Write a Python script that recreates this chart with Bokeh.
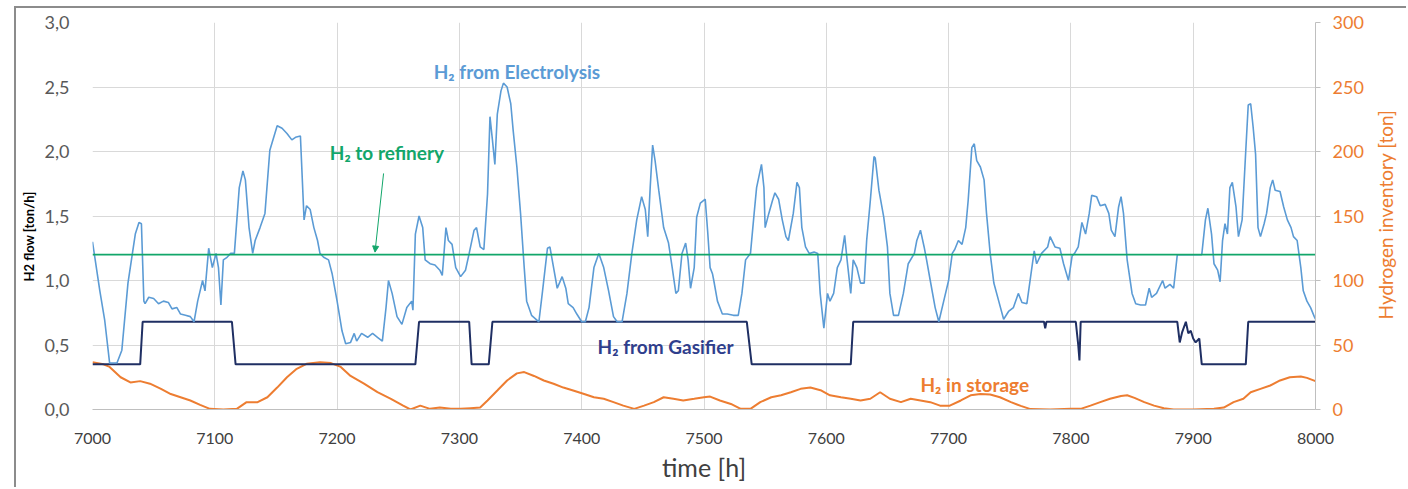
import math
from bokeh.plotting import figure
from bokeh.models import (Range1d, LinearAxis, SingleIntervalTicker, CustomJSTickFormatter,
                          Label, Arrow, NormalHead)
from bokeh.embed import file_html
from bokeh.resources import INLINE

# ---------------- data ----------------
elec_h = [7000, 7006, 7010, 7014, 7020, 7024, 7029, 7035, 7038, 7040, 7042, 7043, 7046, 7050, 7054,
          7058, 7062, 7065, 7069, 7072, 7076, 7080, 7083, 7086, 7090, 7092, 7095, 7098, 7101, 7103,
          7105, 7107, 7110, 7113, 7116, 7120, 7123, 7125, 7128, 7131, 7133, 7137, 7141, 7145, 7151,
          7155, 7159, 7163, 7166, 7170, 7173, 7175, 7178, 7181, 7184, 7186, 7189, 7193, 7196, 7200,
          7204, 7207, 7211, 7214, 7216, 7220, 7225, 7229, 7233, 7237, 7240, 7242, 7245, 7249, 7253,
          7257, 7261, 7262, 7264, 7267, 7270, 7272, 7276, 7280, 7284, 7286, 7287, 7289, 7291, 7294,
          7297, 7301, 7305, 7308, 7312, 7314, 7317, 7320, 7323, 7325, 7327, 7329, 7331, 7334, 7336,
          7339, 7342, 7344, 7347, 7350, 7353, 7355, 7359, 7365, 7368, 7372, 7374, 7377, 7380, 7384,
          7387, 7389, 7393, 7396, 7400, 7403, 7406, 7410, 7414, 7418, 7422, 7426, 7429, 7433, 7437,
          7441, 7445, 7449, 7452, 7454, 7456, 7458, 7460, 7463, 7467, 7471, 7474, 7477, 7479, 7482,
          7485, 7487, 7489, 7492, 7494, 7497, 7501, 7503, 7505, 7507, 7508, 7511, 7515, 7519, 7524,
          7528, 7531, 7534, 7538, 7541, 7543, 7547, 7549, 7550, 7553, 7556, 7558, 7561, 7564, 7567,
          7569, 7573, 7576, 7578, 7580, 7583, 7586, 7590, 7593, 7595, 7598, 7601, 7603, 7606, 7609,
          7612, 7615, 7617, 7620, 7622, 7625, 7628, 7631, 7633, 7636, 7639, 7640, 7643, 7647, 7650,
          7652, 7655, 7659, 7663, 7667, 7672, 7674, 7677, 7680, 7682, 7685, 7689, 7692, 7696, 7700,
          7703, 7705, 7708, 7711, 7714, 7716, 7719, 7721, 7723, 7726, 7729, 7731, 7734, 7737, 7741,
          7745, 7749, 7753, 7757, 7760, 7764, 7770, 7772, 7776, 7781, 7783, 7787, 7791, 7794, 7798,
          7801, 7803, 7806, 7809, 7812, 7815, 7817, 7821, 7824, 7828, 7831, 7833, 7836, 7839, 7841,
          7843, 7846, 7850, 7853, 7857, 7861, 7864, 7866, 7870, 7875, 7877, 7881, 7884, 7887, 7907,
          7910, 7912, 7915, 7917, 7920, 7922, 7924, 7926, 7928, 7930, 7932, 7935, 7937, 7940, 7943,
          7945, 7947, 7949, 7951, 7953, 7955, 7958, 7960, 7963, 7965, 7967, 7971, 7974, 7977, 7980,
          7982, 7985, 7988, 7990, 7993, 7996, 7999, 8000]
elec_v = [1.30, 0.92, 0.69, 0.36, 0.36, 0.46, 0.98, 1.36, 1.45, 1.44, 0.84, 0.82, 0.87, 0.86, 0.82,
          0.84, 0.83, 0.78, 0.79, 0.74, 0.73, 0.72, 0.68, 0.84, 1.00, 0.92, 1.25, 1.10, 1.21, 1.10,
          0.81, 1.16, 1.18, 1.21, 1.21, 1.72, 1.85, 1.78, 1.41, 1.21, 1.31, 1.41, 1.52, 2.01, 2.20,
          2.18, 2.14, 2.09, 2.11, 2.12, 1.47, 1.58, 1.55, 1.41, 1.31, 1.21, 1.18, 1.16, 1.05, 0.84,
          0.61, 0.51, 0.52, 0.59, 0.53, 0.59, 0.56, 0.59, 0.56, 0.53, 0.79, 1.00, 0.90, 0.72, 0.66,
          0.79, 0.84, 0.77, 1.36, 1.50, 1.41, 1.16, 1.13, 1.12, 1.08, 1.04, 1.16, 1.41, 1.31, 1.28,
          1.10, 1.03, 1.08, 1.21, 1.39, 1.41, 1.26, 1.24, 1.67, 2.27, 2.09, 1.90, 2.29, 2.47, 2.53,
          2.50, 2.37, 2.16, 1.88, 1.52, 1.10, 0.84, 0.73, 0.68, 0.92, 1.25, 1.26, 1.10, 0.94, 1.03,
          0.94, 0.82, 0.79, 0.74, 0.68, 0.68, 0.79, 1.10, 1.21, 1.10, 0.92, 0.72, 0.68, 0.68, 0.90,
          1.21, 1.47, 1.65, 1.55, 1.34, 1.72, 2.05, 1.93, 1.70, 1.41, 1.29, 1.10, 0.90, 0.92, 1.21,
          1.29, 1.16, 0.94, 1.10, 1.49, 1.60, 1.63, 1.38, 1.10, 1.05, 1.00, 0.84, 0.74, 0.74, 0.73,
          0.73, 0.90, 1.16, 1.21, 1.52, 1.72, 1.90, 1.72, 1.41, 1.52, 1.62, 1.68, 1.63, 1.47, 1.34,
          1.31, 1.52, 1.76, 1.72, 1.41, 1.26, 1.21, 1.22, 1.21, 0.90, 0.63, 0.90, 0.84, 0.90, 1.10,
          1.16, 1.35, 1.16, 0.90, 1.16, 1.10, 0.98, 0.98, 1.31, 1.62, 1.96, 1.95, 1.70, 1.49, 1.26,
          0.90, 0.73, 0.73, 0.90, 1.13, 1.21, 1.31, 1.39, 1.26, 1.16, 1.00, 0.79, 0.68, 0.84, 1.00,
          1.21, 1.24, 1.31, 1.28, 1.41, 1.62, 2.03, 2.06, 1.93, 1.88, 1.78, 1.52, 1.21, 0.98, 0.84,
          0.70, 0.76, 0.79, 0.90, 0.83, 0.82, 1.23, 1.13, 1.21, 1.26, 1.34, 1.26, 1.25, 1.13, 1.00,
          1.19, 1.21, 1.26, 1.45, 1.36, 1.52, 1.66, 1.65, 1.58, 1.59, 1.52, 1.39, 1.34, 1.57, 1.65,
          1.52, 1.16, 0.90, 0.82, 0.81, 0.81, 0.94, 0.87, 0.90, 1.00, 0.94, 0.97, 0.94, 1.20, 1.20,
          1.47, 1.56, 1.36, 1.13, 1.08, 0.99, 1.31, 1.44, 1.36, 1.72, 1.76, 1.57, 1.34, 1.47, 2.01,
          2.36, 2.37, 2.19, 1.98, 1.41, 1.34, 1.44, 1.52, 1.72, 1.78, 1.70, 1.69, 1.57, 1.47, 1.41,
          1.34, 1.31, 1.10, 0.92, 0.84, 0.79, 0.72, 0.70]

gas_h = [7000, 7039, 7041, 7114, 7117, 7264, 7267, 7308, 7310, 7324, 7327, 7535, 7539, 7620, 7622,
         7778, 7779, 7780, 7804, 7806, 7807, 7808, 7887, 7889, 7891, 7894, 7896, 7898, 7900, 7902,
         7905, 7907, 7943, 7945, 8000]
gas_v = [0.35, 0.35, 0.68, 0.68, 0.35, 0.35, 0.68, 0.68, 0.35, 0.35, 0.68, 0.68, 0.35, 0.35, 0.68,
         0.68, 0.63, 0.68, 0.68, 0.50, 0.38, 0.68, 0.68, 0.52, 0.60, 0.68, 0.59, 0.61, 0.55, 0.52,
         0.55, 0.35, 0.35, 0.68, 0.68]

ref_h = [7000, 8000]
ref_v = [1.2, 1.2]

stor_h = [7000, 7009, 7014, 7023, 7031, 7039, 7047, 7056, 7064, 7072, 7080, 7088, 7096, 7107, 7118,
          7126, 7135, 7143, 7151, 7159, 7167, 7175, 7186, 7195, 7203, 7211, 7222, 7233, 7244, 7254,
          7260, 7268, 7276, 7284, 7293, 7301, 7309, 7317, 7323, 7331, 7339, 7347, 7353, 7361, 7369,
          7377, 7385, 7393, 7402, 7410, 7418, 7426, 7434, 7443, 7451, 7459, 7467, 7475, 7483, 7492,
          7500, 7505, 7513, 7522, 7530, 7538, 7546, 7555, 7563, 7571, 7579, 7587, 7596, 7603, 7612,
          7620, 7628, 7636, 7644, 7652, 7661, 7669, 7677, 7685, 7693, 7701, 7710, 7718, 7726, 7734,
          7742, 7751, 7759, 7767, 7783, 7800, 7808, 7816, 7824, 7832, 7841, 7846, 7852, 7860, 7868,
          7876, 7884, 7900, 7917, 7925, 7933, 7941, 7947, 7955, 7963, 7971, 7979, 7988, 7993, 8000]
stor_t = [36.7, 35, 33, 25, 21, 22, 20, 16, 12, 9.5, 7, 3.6, 0.5, 0, 0.5,
          5.7, 5.7, 9.5, 17, 25, 31.5, 35.4, 36.7, 36, 33, 26, 20, 13.4, 8.3, 3,
          0, 3, 0.5, 1.5, 0.5, 0.5, 1, 1.5, 7, 14.7, 22.5, 28, 29, 26, 22.5,
          20, 17, 14.7, 12, 9.5, 8.3, 5.7, 3, 0.5, 3, 5.7, 9.5, 8.3, 7, 8.3,
          9.5, 10, 7, 4.3, 0.5, 0.5, 5.7, 9.5, 11, 13.4, 16, 17, 14.7, 11, 9.5,
          8.3, 7, 8.3, 13.4, 8.3, 5.7, 8.3, 7, 5.7, 3, 3, 7, 11, 12, 11.6,
          9.5, 5.7, 2.8, 0.3, 0, 0.5, 0.5, 3, 5.7, 8.3, 10.5, 11, 9, 5.7, 3,
          1, 0, 0, 0.5, 1.5, 5.7, 8.3, 13.4, 16, 18.6, 22.5, 25, 25.6, 24.5, 22]

x_title = "time [h]"
y_title = "H2 flow [ton/h]"
y2_title = "Hydrogen inventory [ton]"
lbl_elec = "H\u2082 from Electrolysis"
lbl_ref = "H\u2082 to refinery"
lbl_gas = "H\u2082 from Gasifier"
lbl_stor = "H\u2082 in storage"

# ---------------- styles ----------------
FONT = "Lato"
C_ELEC = "#5B9BD5"
C_GAS = "#1F2F63"
C_REF = "#12A66A"
C_STOR = "#ED7D31"
GRID = "#d9d9d9"
TXT = "#595959"

p = figure(width=1392, height=481, output_backend="svg", toolbar_location=None,
           x_range=Range1d(7000, 8000), y_range=Range1d(0, 3),
           min_border_left=76, min_border_right=93, min_border_top=14, min_border_bottom=80,
           styles={"margin-left": "14px", "margin-top": "6px",
                   "border-left": "2px solid #8c8c8c", "border-top": "2px solid #8c8c8c"})
p.outline_line_color = None
p.background_fill_color = "white"
p.border_fill_color = "white"
p.extra_y_ranges = {"inv": Range1d(0, 300)}

# grids
p.xgrid.ticker = SingleIntervalTicker(interval=100)
p.ygrid.ticker = SingleIntervalTicker(interval=0.5)
p.xgrid.grid_line_color = GRID
p.ygrid.grid_line_color = GRID

# x axis
xa = p.xaxis[0]
xa.ticker = SingleIntervalTicker(interval=100)
xa.axis_label = x_title
xa.axis_label_text_font = FONT
xa.axis_label_text_font_style = "normal"
xa.axis_label_text_font_size = "25px"
xa.axis_label_text_color = "#404040"
xa.axis_label_standoff = 5
xa.major_label_text_font = FONT
xa.major_label_text_font_size = "16px"
xa.major_label_text_color = "#404040"
xa.major_label_standoff = 17
xa.major_tick_line_color = None
xa.minor_tick_line_color = None
xa.axis_line_color = "#bfbfbf"

# left axis (title is a label in the left side panel)
ya = p.yaxis[0]
ya.ticker = SingleIntervalTicker(interval=0.5)
ya.formatter = CustomJSTickFormatter(code="return tick.toFixed(1).replace('.', ',');")
ya.major_label_text_font = FONT
ya.major_label_text_font_size = "18px"
ya.major_label_text_color = TXT
ya.major_label_standoff = 17
ya.major_tick_line_color = None
ya.minor_tick_line_color = None
ya.axis_line_color = None

# right axis (title is a label in the right side panel)
ra = LinearAxis(y_range_name="inv", ticker=SingleIntervalTicker(interval=50))
ra.major_label_text_font = FONT
ra.major_label_text_font_size = "18px"
ra.major_label_text_color = C_STOR
ra.major_label_standoff = 12
ra.major_tick_out = 5
ra.major_tick_in = 0
ra.major_tick_line_color = "#bfbfbf"
ra.minor_tick_line_color = None
ra.axis_line_color = "#bfbfbf"
p.add_layout(ra, "right")


def side_title(x, y, text, size, color, style, side):
    t = Label(x=x, y=y, text=text, angle=math.pi / 2,
              text_align="center", text_baseline="middle",
              text_font=FONT, text_font_size=size, text_color=color,
              text_font_style=style)
    try:
        t.x_units = "canvas"
        t.y_units = "canvas"
    except Exception:
        t.x_units = "screen"
        t.y_units = "screen"
    p.add_layout(t, side)


side_title(10, 226, y_title, "13px", "black", "bold", "left")
side_title(1367, 204, y2_title, "19px", C_STOR, "normal", "right")

# series
p.line(stor_h, stor_t, y_range_name="inv", line_color=C_STOR, line_width=2)
p.line(gas_h, gas_v, line_color=C_GAS, line_width=2)
p.line(elec_h, elec_v, line_color=C_ELEC, line_width=1.6)
p.line(ref_h, ref_v, line_color=C_REF, line_width=1.8)

# annotations
def lab(x, y, t, c, yr="default"):
    p.add_layout(Label(x=x, y=y, text=t, text_color=c, text_font=FONT, text_font_style="bold",
                       text_font_size="19px", text_baseline="middle", text_align="left",
                       y_range_name=yr))

lab(7279, 2.62, lbl_elec, C_ELEC)
lab(7194, 1.99, lbl_ref, C_REF)
lab(7413, 0.49, lbl_gas, "#2F3E8C")
lab(7677, 19, lbl_stor, C_STOR, "inv")

p.add_layout(Arrow(x_start=7238, y_start=1.83, x_end=7231, y_end=1.22,
                   line_color=C_REF, line_width=1,
                   end=NormalHead(size=6, fill_color=C_REF, line_color=C_REF)))

open("out.html", "w").write(file_html(p, INLINE))
